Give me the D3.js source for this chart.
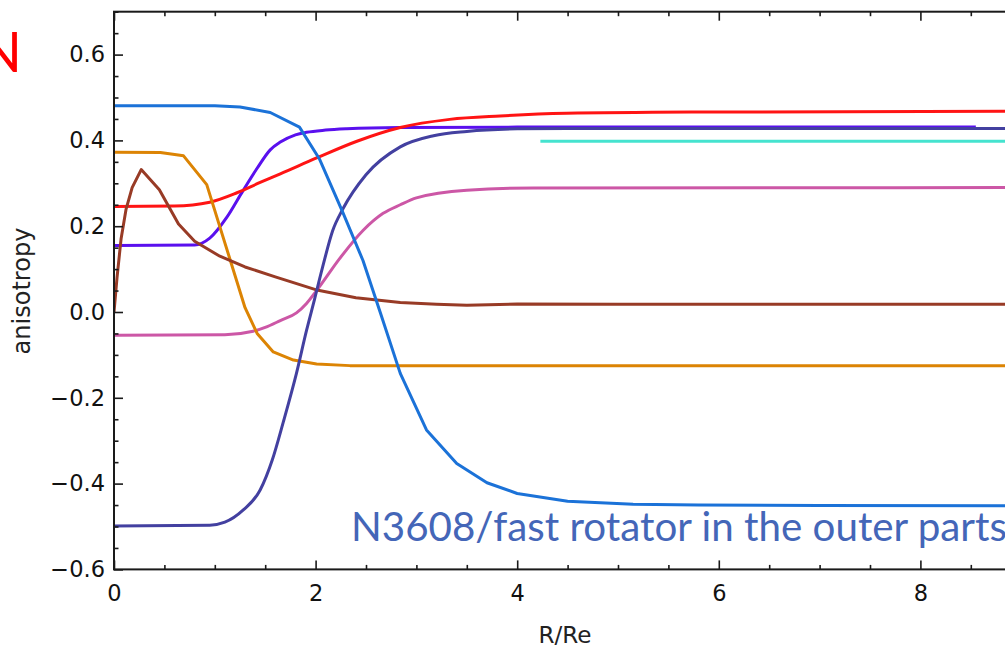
<!DOCTYPE html>
<html>
<head>
<meta charset="utf-8">
<script src="https://cdn.jsdelivr.net/npm/d3@7"></script>
<style>
  html, body { margin: 0; padding: 0; background: #fff; overflow: hidden; }
  svg { display: block; }
</style>
</head>
<body>
<script>
// Anisotropy profiles versus radius (R/Re)
const xTicks = [0, 2, 4, 6, 8];
const yTicks = [-0.6, -0.4, -0.2, 0.0, 0.2, 0.4, 0.6];

const blueR   = [0, 1.0, 1.25, 1.55, 1.84, 2.04, 2.27, 2.47, 2.64, 2.84, 3.1, 3.4, 3.7, 4.0, 4.5, 5.15, 5.8, 7.0, 9.0];
const blueB   = [0.481, 0.481, 0.478, 0.465, 0.431, 0.356, 0.232, 0.12, 0.0, -0.143, -0.275, -0.353, -0.398, -0.423, -0.441, -0.448, -0.45, -0.451, -0.452];

const violetR = [0, 0.8, 0.95, 1.12, 1.28, 1.42, 1.55, 1.65, 1.8, 1.91, 2.1, 2.31, 2.84, 4.0, 8.55];
const violetB = [0.155, 0.156, 0.172, 0.221, 0.283, 0.335, 0.378, 0.396, 0.413, 0.419, 0.424, 0.427, 0.43, 0.431, 0.431];

const redR    = [0, 0.6, 0.95, 1.22, 1.45, 1.65, 2.01, 2.41, 2.84, 3.33, 3.83, 4.49, 5.8, 9.0];
const redB    = [0.246, 0.247, 0.256, 0.278, 0.302, 0.322, 0.359, 0.398, 0.43, 0.449, 0.457, 0.463, 0.466, 0.468];

const navyR   = [0, 0.95, 1.1, 1.28, 1.45, 1.57, 1.68, 1.81, 1.91, 1.99, 2.07, 2.17, 2.27, 2.5, 2.84, 3.17, 3.5, 4.0, 4.5, 9.0];
const navyB   = [-0.499, -0.497, -0.49, -0.462, -0.415, -0.345, -0.256, -0.143, -0.043, 0.03, 0.105, 0.19, 0.24, 0.32, 0.385, 0.411, 0.421, 0.427, 0.428, 0.428];

const pinkR   = [0, 1.1, 1.38, 1.5, 1.65, 1.81, 1.91, 2.01, 2.24, 2.47, 2.67, 2.84, 3.0, 3.5, 4.16, 9.0];
const pinkB   = [-0.054, -0.053, -0.045, -0.036, -0.02, -0.002, 0.02, 0.05, 0.125, 0.19, 0.23, 0.25, 0.266, 0.284, 0.289, 0.29];

const orangeR = [0, 0.46, 0.69, 0.92, 1.3, 1.42, 1.58, 1.78, 2.01, 2.34, 9.0];
const orangeB = [0.3725, 0.372, 0.364, 0.297, 0.01, -0.05, -0.093, -0.112, -0.121, -0.125, -0.125];

const brownR  = [0, 0.03, 0.07, 0.12, 0.18, 0.27, 0.45, 0.64, 0.8, 1.05, 1.3, 1.6, 2.0, 2.4, 2.84, 3.2, 3.5, 4.0, 5.0, 9.0];
const brownB  = [0.0, 0.08, 0.17, 0.24, 0.29, 0.332, 0.285, 0.205, 0.165, 0.13, 0.105, 0.082, 0.052, 0.033, 0.022, 0.018, 0.016, 0.0185, 0.018, 0.018];

const cyanR   = [4.23, 9.0];
const cyanB   = [0.398, 0.398];

const series = [
  { name: "violet", r: violetR, b: violetB, color: "#5a10ee", smooth: true },
  { name: "cyan",   r: cyanR,   b: cyanB,   color: "#45e3cf", smooth: false },
  { name: "red",    r: redR,    b: redB,    color: "#ff1414", smooth: true },
  { name: "pink",   r: pinkR,   b: pinkB,   color: "#cc57a6", smooth: true },
  { name: "orange", r: orangeR, b: orangeB, color: "#dc8404", smooth: false },
  { name: "brown",  r: brownR,  b: brownB,  color: "#983b26", smooth: false },
  { name: "navy",   r: navyR,   b: navyB,   color: "#4340a0", smooth: true },
  { name: "blue",   r: blueR,   b: blueB,   color: "#1b72d8", smooth: false }
];

const W = 1005, H = 651;
const plotL = 114, plotT = 11.7, plotB = 569.4, plotR = 114 + 9 * 100.8;

const svg = d3.select("body").append("svg").attr("width", W).attr("height", H);

const x = d3.scaleLinear().domain([0, 9]).range([plotL, plotR]);
const y = d3.scaleLinear().domain([-0.6, 0.7]).range([plotB, plotT]);

svg.append("defs").append("clipPath").attr("id", "plot")
  .append("rect").attr("x", plotL).attr("y", plotT)
  .attr("width", plotR - plotL).attr("height", plotB - plotT);

// curves
const g = svg.append("g").attr("clip-path", "url(#plot)");
series.forEach(s => {
  const pts = s.r.map((r, i) => [r, s.b[i]]);
  const line = d3.line()
    .x(d => x(d[0])).y(d => y(d[1]))
    .curve(s.smooth ? d3.curveMonotoneX : d3.curveLinear);
  g.append("path").datum(pts)
    .attr("d", line)
    .attr("fill", "none")
    .attr("stroke", s.color)
    .attr("stroke-width", 3)
    .attr("stroke-linejoin", "round")
    .attr("stroke-linecap", "butt");
});

// axes: ticks point inward, labels outside
const tickFont = "'DejaVu Sans', sans-serif";
const xMinor = d3.range(0, 9.01, 0.5).filter(v => !xTicks.includes(v));
const yMinor = d3.range(-0.6, 0.701, 0.05).map(v => +v.toFixed(2)).filter(v => !yTicks.some(t => Math.abs(t - v) < 1e-6));

function styleAxis(sel) {
  sel.select(".domain").remove();
  sel.selectAll(".tick line").attr("stroke", "#1a1a1a").attr("stroke-width", 1.6);
  sel.selectAll(".tick text").attr("fill", "#111").style("font-family", tickFont).style("font-size", "22.5px");
}

svg.append("g").attr("transform", `translate(0,${plotB})`)
  .call(d3.axisBottom(x).tickValues(xTicks).tickSizeInner(-9).tickSizeOuter(0).tickPadding(16).tickFormat(d3.format("d")))
  .call(styleAxis);
svg.append("g").attr("transform", `translate(0,${plotB})`)
  .call(d3.axisBottom(x).tickValues(xMinor).tickSizeInner(-4.5).tickSizeOuter(0).tickFormat(""))
  .call(styleAxis);
svg.append("g").attr("transform", `translate(0,${plotT})`)
  .call(d3.axisTop(x).tickValues(xTicks).tickSizeInner(-9).tickSizeOuter(0).tickFormat(""))
  .call(styleAxis);
svg.append("g").attr("transform", `translate(0,${plotT})`)
  .call(d3.axisTop(x).tickValues(xMinor).tickSizeInner(-4.5).tickSizeOuter(0).tickFormat(""))
  .call(styleAxis);

svg.append("g").attr("transform", `translate(${plotL},0)`)
  .call(d3.axisLeft(y).tickValues(yTicks).tickSizeInner(-9).tickSizeOuter(0).tickPadding(9).tickFormat(d3.format(".1f")))
  .call(styleAxis);
svg.append("g").attr("transform", `translate(${plotL},0)`)
  .call(d3.axisLeft(y).tickValues(yMinor).tickSizeInner(-4.5).tickSizeOuter(0).tickFormat(""))
  .call(styleAxis);

// frame
svg.append("rect")
  .attr("x", plotL).attr("y", plotT)
  .attr("width", plotR - plotL).attr("height", plotB - plotT)
  .attr("fill", "none").attr("stroke", "#1a1a1a").attr("stroke-width", 2);

// scale a text element's font so that it spans the given width
function fitWidth(t, width) {
  const fs = parseFloat(t.style("font-size"));
  const w = t.node().getComputedTextLength();
  t.style("font-size", (fs * width / w) + "px");
}

// axis titles
const yTitle = svg.append("text")
  .attr("transform", "translate(30,291) rotate(-90)")
  .attr("text-anchor", "middle")
  .style("font-family", tickFont).style("font-size", "20px").attr("fill", "#222")
  .text("anisotropy");
fitWidth(yTitle, 127);

const xTitle = svg.append("text")
  .attr("x", 565).attr("y", 643)
  .attr("text-anchor", "middle")
  .style("font-family", tickFont).style("font-size", "20px").attr("fill", "#222")
  .text("R/Re");
fitWidth(xTitle, 53);

// annotations
const note = svg.append("text")
  .attr("x", 351).attr("y", 541)
  .style("font-family", "Lato, 'Open Sans', sans-serif").style("font-size", "40px")
  .attr("fill", "#4466b8")
  .text("N3608/fast rotator in the outer parts");
fitWidth(note, 656);

const nMark = svg.append("text")
  .attr("x", 22).attr("y", 72)
  .attr("text-anchor", "end")
  .style("font-family", "Lato, 'Open Sans', sans-serif").style("font-size", "56px")
  .attr("fill", "#ff0000")
  .text("N");
</script>
</body>
</html>
